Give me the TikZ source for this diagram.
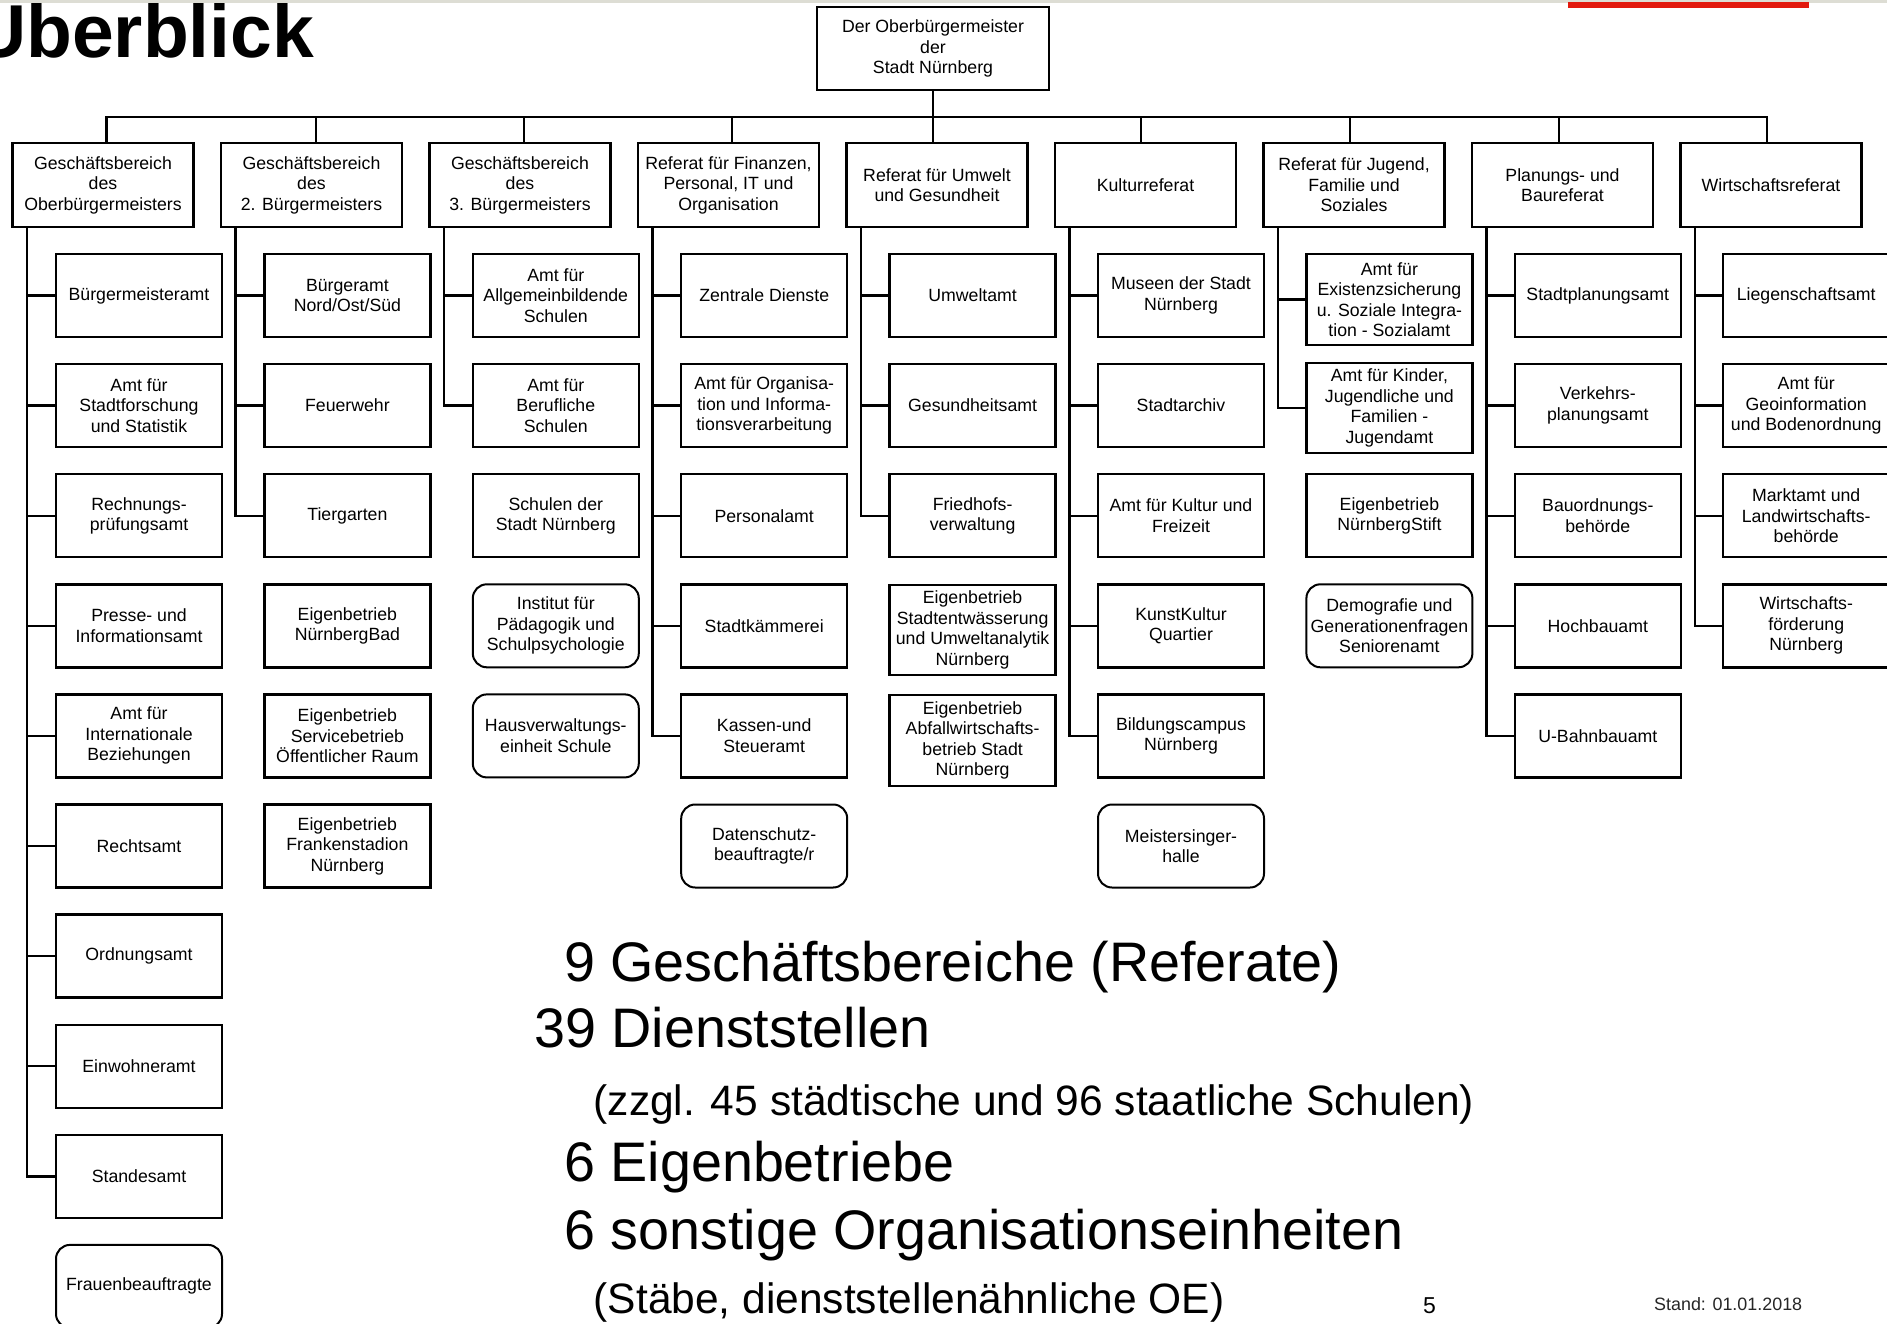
\documentclass[tikz,border=0pt]{standalone}
\usepackage{fontspec}
\setmainfont{Liberation Sans}
\usetikzlibrary{calc}
\definecolor{topgray}{RGB}{221,221,212}
\definecolor{slidered}{RGB}{226,26,14}
\newcommand{\boxfont}{\fontsize{17.7}{20.5}\selectfont}
\begin{document}
\begin{tikzpicture}[x=1pt,y=-1pt,
  box/.style={draw, line width=2.4pt, minimum width=166pt, minimum height=83pt, inner sep=0pt, align=center, font=\boxfont},
  rbox/.style={box, rounded corners=14pt, line width=2pt},
  hbox/.style={box, minimum width=181pt, minimum height=84pt},
  conn/.style={line width=2.4pt},
  bigtxt/.style={anchor=base west, inner sep=0pt, font=\fontsize{55.7}{60}\selectfont},
  midtxt/.style={anchor=base west, inner sep=0pt, font=\fontsize{42.5}{46}\selectfont},
]
\useasboundingbox (0,0) rectangle (1887,1324);
\clip (0,0) rectangle (1887,1324);
\fill[white] (0,0) rectangle (1887,1324);

\node[anchor=base west, inner sep=0pt, font=\bfseries\fontsize{75}{80}\selectfont] (title) at (-28,58) {Überblick};
\fill[topgray] (0,0) rectangle (1887,3.5);
\fill[slidered] (1568,2.5) rectangle (1809,8.5);

% top
\node[box, minimum width=232pt] (ob) at (933,48.5) {Der Oberbürgermeister\\der\\Stadt Nürnberg};

% level 1
\node[hbox] (g1) at (103,185) {Geschäftsbereich\\des\\Oberbürgermeisters};
\node[hbox] (g2) at (311.5,185) {Geschäftsbereich\\des\\2. Bürgermeisters};
\node[hbox] (g3) at (520,185) {Geschäftsbereich\\des\\3. Bürgermeisters};
\node[hbox] (g4) at (728.5,185) {Referat für Finanzen,\\Personal, IT und\\Organisation};
\node[hbox] (g5) at (937,185) {Referat für Umwelt\\und Gesundheit};
\node[hbox] (g6) at (1145.5,185) {Kulturreferat};
\node[hbox] (g7) at (1354,185) {Referat für Jugend,\\Familie und\\Soziales};
\node[hbox] (g8) at (1562.5,185) {Planungs- und\\Baureferat};
\node[hbox] (g9) at (1771,185) {Wirtschaftsreferat};

\coordinate (busy) at (0,117);
\foreach \i/\dx in {1/3.5,2/4.5,3/4,4/3.5,5/-4,6/-4.5,7/-4,8/-3.5,9/-4}
  \coordinate (d\i) at ($(g\i.north)+(\dx,0)$);
\draw[conn] (ob.south) -- (d5);
\draw[conn] (d1) -- (d1 |- busy) -- (d9 |- busy) -- (d9);
\foreach \i in {2,3,4,6,7,8} \draw[conn] (d\i) -- (d\i |- busy);

% column 1
\node[box] (c1r0) at (139,295.5) {Bürgermeisteramt};
\node[box] (c1r1) at (139,405.6) {Amt für\\Stadtforschung\\und Statistik};
\node[box] (c1r2) at (139,515.7) {Rechnungs-\\prüfungsamt};
\node[box] (c1r3) at (139,625.8) {Presse- und\\Informationsamt};
\node[box] (c1r4) at (139,735.9) {Amt für\\Internationale\\Beziehungen};
\node[box] (c1r5) at (139,846) {Rechtsamt};
\node[box] (c1r6) at (139,956.1) {Ordnungsamt};
\node[box] (c1r7) at (139,1066.2) {Einwohneramt};
\node[box] (c1r8) at (139,1176.3) {Standesamt};
\node[rbox] (c1r9) at (139,1286.4) {Frauenbeauftragte};

% column 2
\node[box] (c2r0) at (347.4,295.5) {Bürgeramt\\Nord/Ost/Süd};
\node[box] (c2r1) at (347.4,405.6) {Feuerwehr};
\node[box] (c2r2) at (347.4,515.7) {Tiergarten};
\node[box] (c2r3) at (347.4,625.8) {Eigenbetrieb\\NürnbergBad};
\node[box] (c2r4) at (347.4,735.9) {Eigenbetrieb\\Servicebetrieb\\Öffentlicher Raum};
\node[box] (c2r5) at (347.4,846) {Eigenbetrieb\\Frankenstadion\\Nürnberg};

% column 3
\node[box] (c3r0) at (555.8,295.5) {Amt für\\Allgemeinbildende\\Schulen};
\node[box] (c3r1) at (555.8,405.6) {Amt für\\Berufliche\\Schulen};
\node[box] (c3r2) at (555.8,515.7) {Schulen der\\Stadt Nürnberg};
\node[rbox] (c3r3) at (555.8,625.8) {Institut für\\Pädagogik und\\Schulpsychologie};
\node[rbox] (c3r4) at (555.8,735.9) {Hausverwaltungs-\\einheit Schule};

% column 4
\node[box] (c4r0) at (764.2,295.5) {Zentrale Dienste};
\node[box] (c4r1) at (764.2,405.6) {Amt für Organisa-\\tion und Informa-\\tionsverarbeitung};
\node[box] (c4r2) at (764.2,515.7) {Personalamt};
\node[box] (c4r3) at (764.2,625.8) {Stadtkämmerei};
\node[box] (c4r4) at (764.2,735.9) {Kassen-und\\Steueramt};
\node[rbox] (c4r5) at (764.2,846) {Datenschutz-\\beauftragte/r};

% column 5
\node[box] (c5r0) at (972.6,295.5) {Umweltamt};
\node[box] (c5r1) at (972.6,405.6) {Gesundheitsamt};
\node[box] (c5r2) at (972.6,515.7) {Friedhofs-\\verwaltung};
\node[box, minimum height=90pt] (c5r3) at (972.6,630) {Eigenbetrieb\\Stadtentwässerung\\und Umweltanalytik\\Nürnberg};
\node[box, minimum height=91pt] (c5r4) at (972.6,740.5) {Eigenbetrieb\\Abfallwirtschafts-\\betrieb Stadt\\Nürnberg};

% column 6
\node[box] (c6r0) at (1181,295.5) {Museen der Stadt\\Nürnberg};
\node[box] (c6r1) at (1181,405.6) {Stadtarchiv};
\node[box] (c6r2) at (1181,515.7) {Amt für Kultur und\\Freizeit};
\node[box] (c6r3) at (1181,625.8) {KunstKultur\\Quartier};
\node[box] (c6r4) at (1181,735.9) {Bildungscampus\\Nürnberg};
\node[rbox] (c6r5) at (1181,846) {Meistersinger-\\halle};

% column 7
\node[box, minimum height=91pt] (c7r0) at (1389.4,299.5) {Amt für\\Existenzsicherung\\u. Soziale Integra-\\tion - Sozialamt};
\node[box, minimum height=90pt] (c7r1) at (1389.4,408) {Amt für Kinder,\\Jugendliche und\\Familien -\\Jugendamt};
\node[box] (c7r2) at (1389.4,515.7) {Eigenbetrieb\\NürnbergStift};
\node[rbox] (c7r3) at (1389.4,625.8) {Demografie und\\Generationenfragen\\Seniorenamt};

% column 8
\node[box] (c8r0) at (1597.8,295.5) {Stadtplanungsamt};
\node[box] (c8r1) at (1597.8,405.6) {Verkehrs-\\planungsamt};
\node[box] (c8r2) at (1597.8,515.7) {Bauordnungs-\\behörde};
\node[box] (c8r3) at (1597.8,625.8) {Hochbauamt};
\node[box] (c8r4) at (1597.8,735.9) {U-Bahnbauamt};

% column 9
\node[box] (c9r0) at (1806.2,295.5) {Liegenschaftsamt};
\node[box] (c9r1) at (1806.2,405.6) {Amt für\\Geoinformation\\und Bodenordnung};
\node[box] (c9r2) at (1806.2,515.7) {Marktamt und\\Landwirtschafts-\\behörde};
\node[box] (c9r3) at (1806.2,625.8) {Wirtschafts-\\förderung\\Nürnberg};

% spines
\foreach \i in {1,...,9} \coordinate (s\i) at ($(g\i.south west)+(15.5,0)$);
\foreach \r in {0,...,8} \draw[conn] (s1) |- (c1r\r.west);
\foreach \r in {0,...,2} \draw[conn] (s2) |- (c2r\r.west);
\foreach \r in {0,1} \draw[conn] (s3) |- (c3r\r.west);
\foreach \r in {0,...,4} \draw[conn] (s4) |- (c4r\r.west);
\foreach \r in {0,...,2} \draw[conn] (s5) |- (c5r\r.west);
\foreach \r in {0,...,4} \draw[conn] (s6) |- (c6r\r.west);
\foreach \r in {0,1} \draw[conn] (s7) |- (c7r\r.west);
\foreach \r in {0,...,4} \draw[conn] (s8) |- (c8r\r.west);
\foreach \r in {0,...,3} \draw[conn] (s9) |- (c9r\r.west);

% summary text
\node[bigtxt] (t1) at (564,981) {9 Geschäftsbereiche (Referate)};
\node[bigtxt] (t2) at (534,1047) {39 Dienststellen};
\node[midtxt] (t3) at (593.5,1115) {(zzgl. 45 städtische und 96 staatliche Schulen)};
\node[bigtxt] (t4) at (564,1181) {6 Eigenbetriebe};
\node[bigtxt] (t5) at (564,1249) {6 sonstige Organisationseinheiten};
\node[midtxt] (t6) at (593.5,1313) {(Stäbe, dienststellenähnliche OE)};
\node[anchor=base west, inner sep=0pt, font=\fontsize{23}{25}\selectfont] (pg) at (1423,1313) {5};
\node[anchor=base west, inner sep=0pt, font=\fontsize{17.9}{20}\selectfont, text=black!85] (stand) at (1654,1310) {Stand: 01.01.2018};
\end{tikzpicture}
\end{document}
